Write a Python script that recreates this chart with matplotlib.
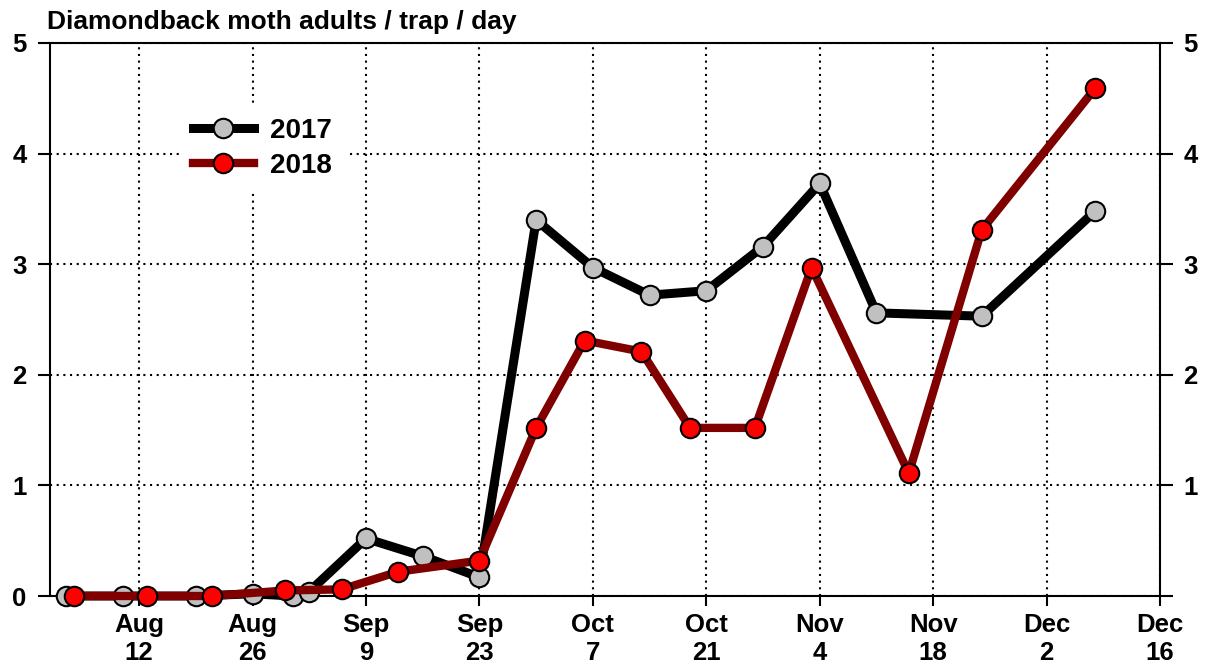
import datetime as dt

import matplotlib
matplotlib.use("Agg")
import matplotlib.pyplot as plt

plt.rcParams["font.family"] = ["Liberation Sans", "DejaVu Sans"]
plt.rcParams["font.weight"] = "bold"

# sampling dates (month, day) and moths / trap / day
dates_2017 = ["08-03", "08-10", "08-19", "08-26", "08-31", "09-02", "09-09", "09-16",
              "09-23", "09-30", "10-07", "10-14", "10-21", "10-28", "11-04", "11-11",
              "11-24", "12-08"]
vals_2017 = [0.0, 0.0, 0.0, 0.02, 0.0, 0.04, 0.52, 0.36,
             0.17, 3.40, 2.97, 2.72, 2.76, 3.16, 3.73, 2.56,
             2.53, 3.48]

dates_2018 = ["08-04", "08-13", "08-21", "08-30", "09-06", "09-13", "09-23", "09-30",
              "10-06", "10-13", "10-19", "10-27", "11-03", "11-15", "11-24", "12-08"]
vals_2018 = [0.0, 0.0, 0.0, 0.05, 0.06, 0.22, 0.32, 1.52,
             2.31, 2.21, 1.52, 1.52, 2.97, 1.11, 3.31, 4.59]

tick_dates = ["08-12", "08-26", "09-09", "09-23", "10-07", "10-21", "11-04", "11-18",
              "12-02", "12-16"]
y_ticks = [0, 1, 2, 3, 4, 5]


def to_date(md):
    # plot both seasons on a common calendar
    return dt.datetime.strptime("2018-" + md, "%Y-%m-%d")


x17 = [to_date(d) for d in dates_2017]
x18 = [to_date(d) for d in dates_2018]
xt = [to_date(d) for d in tick_dates]

fig = plt.figure(figsize=(12.07, 6.67), dpi=100)
ax = fig.add_axes([50 / 1207, 1 - 596 / 667, (1160 - 50) / 1207, (596 - 43) / 667])

ax.plot(x17, vals_2017, color="black", lw=6.5, marker="o", ms=14,
        mfc="#c0c0c0", mec="black", mew=1.5, clip_on=False, zorder=3, label="2017")
ax.plot(x18, vals_2018, color="#800000", lw=6, marker="o", ms=14,
        mfc="#ff0000", mec="black", mew=1.5, clip_on=False, zorder=4, label="2018")

ax.set_xlim(to_date("08-01"), to_date("12-16"))
ax.set_ylim(0, 5)

ax.set_xticks(xt)
ax.set_xticklabels([d.strftime("%b") + "\n" + str(d.day) for d in xt], linespacing=1.25)
ax.set_yticks(y_ticks)
ax.set_yticklabels([str(v) for v in y_ticks])

ax.tick_params(axis="y", direction="out", length=9, width=1.5,
               labelsize=18.5, pad=8, right=True, labelright=True)
ax.tick_params(axis="x", direction="out", length=7, width=1.5, labelsize=18.5, pad=5)

ax.grid(True, color="black", linestyle=(0, (1, 2.2)), linewidth=1.5, zorder=1)
ax.set_axisbelow(True)
for s in ax.spines.values():
    s.set_linewidth(1.5)

leg = ax.legend(loc="upper left", bbox_to_anchor=(0.116, 0.89), fontsize=20,
                handlelength=2.2, handletextpad=0.6, labelspacing=0.32,
                frameon=True, facecolor="white", edgecolor="none", framealpha=1,
                borderpad=0.5, borderaxespad=0)
leg.set_zorder(2)

fig.text(47 / 1207, 1 - 22 / 667, "Diamondback moth adults / trap / day",
         fontsize=19, fontweight="bold", ha="left", va="center")

# the right axis has no "0" label
for t in ax.yaxis.get_major_ticks():
    if t.get_loc() == 0:
        t.label2.set_visible(False)

fig.savefig("out.png", dpi=100)
